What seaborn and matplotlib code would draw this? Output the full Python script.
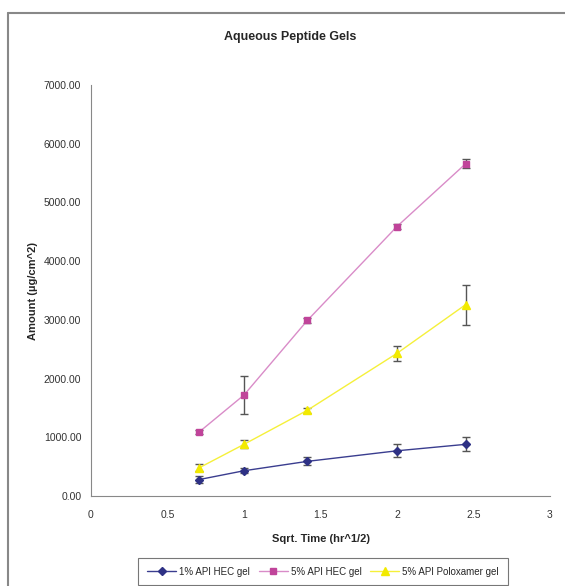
import matplotlib
matplotlib.use("Agg")
import matplotlib.pyplot as plt
import seaborn as sns
import numpy as np
import pandas as pd
from matplotlib.lines import Line2D

# Données
sqrt_time = [0.707, 1.0, 1.414, 2.0, 2.449]
series_names = ["1% API HEC gel", "5% API HEC gel", "5% API Poloxamer gel"]

hec_1 = [280, 430, 590, 770, 880]
hec_1_err = [60, 40, 70, 110, 120]

hec_5 = [1090, 1720, 2990, 4590, 5660]
hec_5_err = [40, 330, 40, 50, 80]

polox_5 = [480, 880, 1460, 2430, 3260]
polox_5_err = [60, 70, 40, 130, 340]

y_ticks = [0, 1000, 2000, 3000, 4000, 5000, 6000, 7000]
x_ticks = [0, 0.5, 1, 1.5, 2, 2.5, 3]
x_labels = ["0", "0.5", "1", "1.5", "2", "2.5", "3"]

# =============================================================================
# Mise en forme

df = pd.DataFrame({
    "t": sqrt_time * 3,
    "amount": hec_1 + hec_5 + polox_5,
    "err": hec_1_err + hec_5_err + polox_5_err,
    "gel": [series_names[0]] * 5 + [series_names[1]] * 5 + [series_names[2]] * 5,
})

sns.set_style("white")
plt.rcParams['font.family'] = ['Liberation Sans', 'DejaVu Sans']

line_cols = {series_names[0]: "#3a3d8f", series_names[1]: "#d98cc8", series_names[2]: "#f5f03a"}
mark_cols = {series_names[0]: "#2e3185", series_names[1]: "#c0449a", series_names[2]: "#f2ea00"}
markers = {series_names[0]: "D", series_names[1]: "s", series_names[2]: "^"}
msize = {series_names[0]: 4.2, series_names[1]: 5, series_names[2]: 6}

fig = plt.figure(figsize=(5.65, 5.86), dpi=100)
ax = fig.add_axes([91 / 565, 1 - 496 / 586, (550 - 91) / 565, (496 - 85) / 586])

# barres d'erreur d'abord
ax.errorbar(df["t"], df["amount"], yerr=df["err"], fmt="none", ecolor="#555555",
            elinewidth=1.0, capsize=3, capthick=1.0, zorder=2)

sns.lineplot(data=df, x="t", y="amount", hue="gel", palette=line_cols,
             linewidth=1.0, legend=False, ax=ax, zorder=3)

for g in series_names:
    sub = df[df["gel"] == g]
    ax.plot(sub["t"], sub["amount"], linestyle="none", marker=markers[g],
            markersize=msize[g], color=mark_cols[g], zorder=4)

ax.set_xlim(0, 3)
ax.set_ylim(0, 7000)
ax.set_xticks(x_ticks)
ax.set_xticklabels(x_labels)
ax.set_yticks(y_ticks)
ax.set_yticklabels(["%.2f" % v for v in y_ticks])
ax.tick_params(axis="both", direction="out", length=4, width=0.8, colors="#888888",
               labelsize=7.5, labelcolor="#333333", pad=3)
ax.tick_params(axis="x", pad=6)

for s in ["top", "right"]:
    ax.spines[s].set_visible(False)
for s in ["left", "bottom"]:
    ax.spines[s].set_color("#888888")
    ax.spines[s].set_linewidth(0.8)

ax.set_xlabel("Sqrt. Time (hr^1/2)", fontsize=8, fontweight="bold", labelpad=10)
ax.set_ylabel("Amount (µg/cm^2)", fontsize=8, fontweight="bold", labelpad=4)

fig.text(290 / 565, 1 - 37 / 586, "Aqueous Peptide Gels", ha="center", va="center",
         fontsize=9, fontweight="bold")

# légende
handles = [Line2D([0], [0], color=line_cols[g], linewidth=1.0, marker=markers[g],
                  markersize=msize[g] - 0.5, markerfacecolor=mark_cols[g],
                  markeredgecolor=mark_cols[g]) for g in series_names]
leg = fig.legend(handles, series_names, loc="upper center",
                 bbox_to_anchor=(323 / 565, 1 - 553 / 586), ncol=3, fontsize=7,
                 frameon=True, fancybox=False, handlelength=3.0, columnspacing=0.9,
                 handletextpad=0.3, borderpad=0.9)
leg.get_frame().set_edgecolor("#555555")
leg.get_frame().set_linewidth(0.8)

# cadre gris du graphique
fig.add_artist(Line2D([8 / 565, 8 / 565], [0, 1 - 13 / 586], color="#888888", linewidth=1.5))
fig.add_artist(Line2D([8 / 565, 1], [1 - 13 / 586, 1 - 13 / 586], color="#888888", linewidth=1.5))

plt.savefig("out.png", dpi=100)
